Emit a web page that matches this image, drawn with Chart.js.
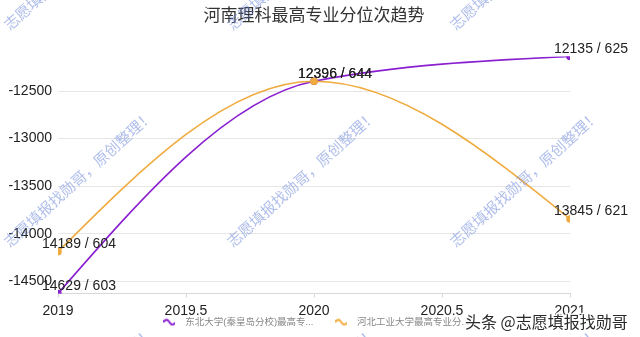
<!DOCTYPE html>
<html>
<head>
<meta charset="utf-8">
<script src="https://cdn.jsdelivr.net/npm/chart.js@4"></script>
<style>
  html, body { margin: 0; padding: 0; background: #fff; }
</style>
</head>
<body>
<canvas id="rankChart" width="640" height="337"></canvas>
<script>
// 数据（位次取负值，越高越靠前）
const years = [2019, 2020, 2021];
const neuqRanks = [14629, 12396, 12135];
const neuqScores = [603, 644, 625];
const hebutRanks = [14189, 12396, 13845];
const hebutScores = [604, 644, 621];
const seriesNames = ['东北大学(秦皇岛分校)最高专...', '河北工业大学最高专业分...'];
const seriesColors = ['#8a1fd0', '#f0ab3e'];
const xTicks = [2019, 2019.5, 2020, 2020.5, 2021];
const yTicks = [-14500, -14000, -13500, -13000, -12500];
const chartTitle = '河南理科最高专业分位次趋势';
const markText = '志愿填报找勋哥，原创整理！';
const footText = '头条 @志愿填报找勋哥';

const baseFont = "'Liberation Sans', Arial, 'Noto Sans CJK SC', sans-serif";

// 图例里的小波浪线
function waveIcon(color) {
    const c = document.createElement('canvas');
    c.width = 12; c.height = 8;
    const g = c.getContext('2d');
    g.strokeStyle = color;
    g.lineWidth = 2;
    g.beginPath();
    for (let i = 0; i <= 12; i++) {
        const y = 4 - 2.5 * Math.sin(i / 12 * 2 * Math.PI);
        if (i === 0) g.moveTo(i, y); else g.lineTo(i, y);
    }
    g.stroke();
    return c;
}
const icons = seriesColors.map(waveIcon);

// 单调三次曲线的切线（和原图的平滑方式一致）
function monoSlopes(xs, ys) {
    const n = xs.length;
    const h = [], s = [], m = new Array(n).fill(0);
    for (let i = 0; i < n - 1; i++) {
        h[i] = xs[i + 1] - xs[i];
        s[i] = (ys[i + 1] - ys[i]) / h[i];
    }
    for (let i = 1; i < n - 1; i++) {
        const p = (s[i - 1] * h[i] + s[i] * h[i - 1]) / (h[i - 1] + h[i]);
        m[i] = (Math.sign(s[i - 1]) + Math.sign(s[i])) *
            Math.min(Math.abs(s[i - 1]), Math.abs(s[i]), 0.5 * Math.abs(p)) || 0;
    }
    m[0] = (3 * s[0] - m[1]) / 2;
    m[n - 1] = (3 * s[n - 2] - m[n - 2]) / 2;
    return m;
}

const smoothCurve = {
    id: 'smoothCurve',
    beforeDatasetDraw(chart, args) {
        const meta = args.meta;
        const pts = meta.data;
        if (pts.length < 3) return;
        const xs = pts.map(p => p.x), ys = pts.map(p => p.y);
        const m = monoSlopes(xs, ys);
        for (let i = 0; i < pts.length - 1; i++) {
            const h = (xs[i + 1] - xs[i]) / 3;
            pts[i].cp2x = xs[i] + h;
            pts[i].cp2y = ys[i] + m[i] * h;
            pts[i + 1].cp1x = xs[i + 1] - h;
            pts[i + 1].cp1y = ys[i + 1] - m[i + 1] * h;
        }
        meta.dataset._pointsUpdated = true;
    }
};

// 数据点上方的 "位次 / 分数"
const pointLabels = {
    id: 'pointLabels',
    afterDatasetsDraw(chart) {
        const ctx = chart.ctx;
        const texts = [
            neuqRanks.map((r, i) => r + ' / ' + neuqScores[i]),
            hebutRanks.map((r, i) => r + ' / ' + hebutScores[i])
        ];
        ctx.save();
        ctx.font = '14px ' + baseFont;
        ctx.fillStyle = '#222';
        ctx.textAlign = 'left';
        ctx.textBaseline = 'alphabetic';
        chart.data.datasets.forEach((ds, di) => {
            chart.getDatasetMeta(di).data.forEach((pt, i) => {
                ctx.fillText(texts[di][i], pt.x - 16, pt.y - 3.5);
            });
        });
        ctx.restore();
    }
};

// 水印
const watermark = {
    id: 'watermark',
    afterDraw(chart) {
        const ctx = chart.ctx;
        ctx.save();
        ctx.font = "15px 'Noto Sans CJK SC', sans-serif";
        ctx.fillStyle = 'rgba(95, 125, 215, 0.5)';
        ctx.textBaseline = 'alphabetic';
        [10, 233, 456].forEach(x => {
            [31, 248, 465].forEach(y => {
                ctx.save();
                ctx.translate(x, y);
                ctx.rotate(-42 * Math.PI / 180);
                ctx.fillText(markText, 0, 0);
                ctx.restore();
            });
        });
        ctx.font = "16px 'Noto Sans CJK SC', sans-serif";
        ctx.textBaseline = 'middle';
        ctx.lineWidth = 3;
        ctx.strokeStyle = 'rgba(255,255,255,0.9)';
        ctx.strokeText(footText, 465, 322);
        ctx.fillStyle = '#2a2a2a';
        ctx.fillText(footText, 465, 322);
        ctx.restore();
    }
};

const ctx = document.getElementById('rankChart');
new Chart(ctx, {
    type: 'line',
    data: {
        datasets: [
            {
                label: seriesNames[0],
                data: years.map((y, i) => ({ x: y, y: -neuqRanks[i] })),
                borderColor: seriesColors[0],
                backgroundColor: seriesColors[0],
                borderWidth: 1.6,
                pointRadius: 3,
                tension: 0.4,
                order: 2
            },
            {
                label: seriesNames[1],
                data: years.map((y, i) => ({ x: y, y: -hebutRanks[i] })),
                borderColor: seriesColors[1],
                backgroundColor: seriesColors[1],
                borderWidth: 1.6,
                pointRadius: 3,
                tension: 0.4,
                order: 1
            }
        ]
    },
    options: {
        responsive: false,
        animation: false,
        devicePixelRatio: 1,
        layout: { padding: { left: 0, right: 70, top: 0, bottom: 0 } },
        scales: {
            x: {
                type: 'linear',
                min: years[0],
                max: years[years.length - 1],
                afterBuildTicks: (s) => { s.ticks = xTicks.map(v => ({ value: v })); },
                afterFit: (s) => { s.height = 23; },
                grid: { drawOnChartArea: false, tickLength: 4, color: '#d8d8d8' },
                border: { color: '#d8d8d8' },
                ticks: { color: '#222', font: { size: 14, family: baseFont }, padding: 5, maxRotation: 0, callback: (v) => String(v) }
            },
            y: {
                min: -Math.max(...neuqRanks, ...hebutRanks),
                max: -Math.min(...neuqRanks, ...hebutRanks),
                afterBuildTicks: (s) => { s.ticks = yTicks.map(v => ({ value: v })); },
                afterFit: (s) => { s.width = 58; },
                grid: { drawTicks: false, color: '#e6e6e6' },
                border: { display: false },
                ticks: { color: '#222', font: { size: 14, family: baseFont }, padding: 6, callback: (v) => String(v) }
            }
        },
        plugins: {
            title: {
                display: true,
                text: chartTitle,
                fullSize: false,
                color: '#333',
                font: { size: 17, weight: 'normal', family: baseFont },
                padding: { top: 6, bottom: 30 }
            },
            legend: {
                position: 'bottom',
                fullSize: false,
                labels: {
                    usePointStyle: true,
                    pointStyleWidth: 22,
                    padding: 1,
                    color: '#888',
                    font: { size: 9.5, family: baseFont },
                    sort: (a, b) => a.datasetIndex - b.datasetIndex,
                    generateLabels: (chart) => {
                        const items = Chart.defaults.plugins.legend.labels.generateLabels(chart);
                        items.forEach((it) => {
                            it.pointStyle = icons[it.datasetIndex];
                            if (it.datasetIndex === 0) it.text = it.text + '      ';
                        });
                        return items;
                    }
                }
            },
            tooltip: { enabled: false }
        }
    },
    plugins: [smoothCurve, pointLabels, watermark]
});
</script>
</body>
</html>
